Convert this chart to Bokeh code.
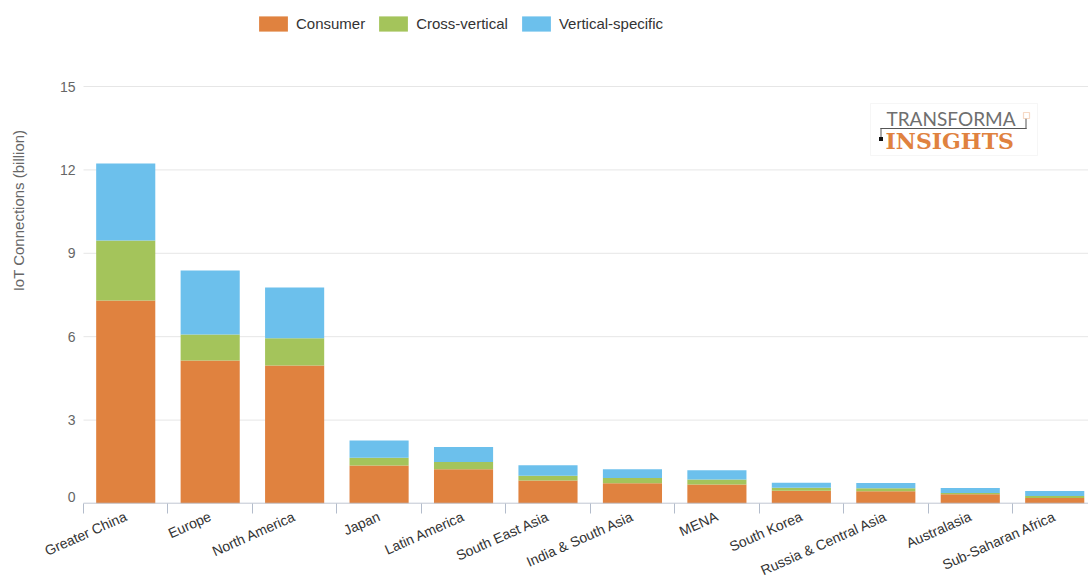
import numpy as np
from bokeh.plotting import figure
from bokeh.models import (ColumnDataSource, Range1d, FixedTicker, Legend, LegendItem,
                          Label, BoxAnnotation)
from bokeh.core.properties import value
from bokeh.embed import file_html
from bokeh.resources import INLINE

regions = ["Greater China", "Europe", "North America", "Japan", "Latin America",
           "South East Asia", "India & South Asia", "MENA", "South Korea",
           "Russia & Central Asia", "Australasia", "Sub-Saharan Africa"]
consumer = [7.30, 5.14, 4.96, 1.37, 1.23, 0.83, 0.73, 0.68, 0.46, 0.44, 0.33, 0.20]
cross_vertical = [2.16, 0.94, 0.98, 0.28, 0.26, 0.17, 0.19, 0.18, 0.11, 0.11, 0.05, 0.07]
vertical_specific = [2.77, 2.30, 1.83, 0.62, 0.54, 0.38, 0.31, 0.34, 0.18, 0.19, 0.18, 0.18]
series_names = ["Consumer", "Cross-vertical", "Vertical-specific"]
colors = ["#E0823F", "#A4C45B", "#6CC0EC"]
y_ticks = [0, 3, 6, 9, 12, 15]
y_tick_labels = [str(t) for t in y_ticks]

FONT = "Liberation Sans"

# layout constants (pixels). The frame covers the whole area above the x axis;
# the plotting region proper starts LEFT_GAP px from the left and TOP_GAP px from the top.
W, H = 1088, 588
FRAME_H = 503
TOP_GAP = 86
LEFT_GAP = 83
x_end = 11.9
x_start = -x_end * LEFT_GAP / (W - LEFT_GAP)
y_end = max(y_ticks) * FRAME_H / (FRAME_H - TOP_GAP)

centers = list(np.arange(len(regions)) + 0.5)
boundaries = list(np.arange(len(regions) + 1).astype(float))

source = ColumnDataSource(dict(x=centers, consumer=consumer,
                               cross=cross_vertical, vertical=vertical_specific))

p = figure(width=W, height=H, output_backend="svg", toolbar_location=None,
           x_range=Range1d(x_start, x_end), y_range=Range1d(0, y_end),
           min_border_left=0, min_border_right=0, min_border_top=0,
           min_border_bottom=H - FRAME_H)
p.outline_line_color = None
p.background_fill_color = "white"
p.xgrid.grid_line_color = None
p.ygrid.grid_line_color = None
p.yaxis.visible = False

# horizontal grid lines (from the tick values)
p.segment(x0=0, x1=x_end, y0=y_ticks, y1=y_ticks, line_color="#e6e6e6", line_width=1)

rs = p.vbar_stack(["consumer", "cross", "vertical"], x="x", width=0.7, color=colors,
                  line_color=None, source=source)

# baseline of the category axis
p.segment(x0=[0], x1=[x_end], y0=[0], y1=[0], line_color="#b3bccb", line_width=1.5)

# y tick labels (the one on the baseline is lifted so it stays inside the canvas frame)
label_lift = [-7 if t == 0 else 0 for t in y_ticks]
p.text(x=[0] * len(y_ticks), y=y_ticks, text=y_tick_labels, x_offset=-8,
       y_offset=label_lift, text_align="right", text_baseline="middle",
       text_font=value(FONT), text_font_size="14px", text_color="#666666")

# x axis
xa = p.xaxis[0]
xa.ticker = FixedTicker(ticks=centers, minor_ticks=boundaries)
xa.major_label_overrides = {float(c): r for c, r in zip(centers, regions)}
xa.major_tick_line_color = None
xa.major_tick_out = 0
xa.major_tick_in = 0
xa.minor_tick_line_color = "#b3bccb"
xa.minor_tick_out = 10
xa.minor_tick_in = 0
xa.axis_line_color = None
xa.major_label_orientation = 0.42
xa.major_label_standoff = 2
xa.major_label_text_font = FONT
xa.major_label_text_font_size = "14px"
xa.major_label_text_color = "#333333"

# y-axis title
p.add_layout(Label(x=18, y=FRAME_H - 210, x_units="screen", y_units="screen",
                   text="IoT Connections (billion)", angle=np.pi / 2,
                   text_align="center", text_baseline="middle",
                   text_font=FONT, text_font_size="15px", text_color="#666666"))

# legend
legend = Legend(items=[LegendItem(label=n, renderers=[r]) for n, r in zip(series_names, rs)],
                orientation="horizontal", location=(255, 470), padding=0, margin=0,
                spacing=10, label_standoff=5, glyph_width=36, glyph_height=19,
                label_height=19, label_text_font=FONT, label_text_font_size="15px",
                label_text_color="#333333", border_line_color=None,
                background_fill_alpha=0)
p.add_layout(legend, "center")

# logo
def sbox(l, r, t, b, **kw):
    return BoxAnnotation(left=l, right=r, top=FRAME_H - t, bottom=FRAME_H - b,
                         left_units="screen", right_units="screen",
                         top_units="screen", bottom_units="screen", **kw)

p.add_layout(sbox(870, 1037, 103, 155, fill_color="white", fill_alpha=1,
                  line_color="#e2e2e2", line_width=1))
p.add_layout(sbox(880, 1026, 127.5, 128.5, fill_color="#555555", fill_alpha=1, line_color=None))
p.add_layout(sbox(880, 881, 127.5, 139, fill_color="#555555", fill_alpha=1, line_color=None))
p.add_layout(sbox(1025, 1026, 118, 128.5, fill_color="#555555", fill_alpha=1, line_color=None))
p.add_layout(sbox(878.5, 882.5, 136.5, 140.5, fill_color="#111111", fill_alpha=1, line_color=None))
p.add_layout(sbox(1023, 1029, 112, 118, fill_color="white", fill_alpha=1,
                  line_color="#E0823F", line_width=1.2))
p.add_layout(Label(x=886, y=FRAME_H - 118, x_units="screen", y_units="screen",
                   text="TRANSFORMA", text_align="left", text_baseline="middle",
                   text_font="Lato", text_font_size="19px", text_color="#6f6f6f"))
p.add_layout(Label(x=885, y=FRAME_H - 140, x_units="screen", y_units="screen",
                   text="INSIGHTS", text_align="left", text_baseline="middle",
                   text_font="DejaVu Serif", text_font_style="bold",
                   text_font_size="22px", text_color="#E0823F"))

open("out.html", "w").write(file_html(p, INLINE))
